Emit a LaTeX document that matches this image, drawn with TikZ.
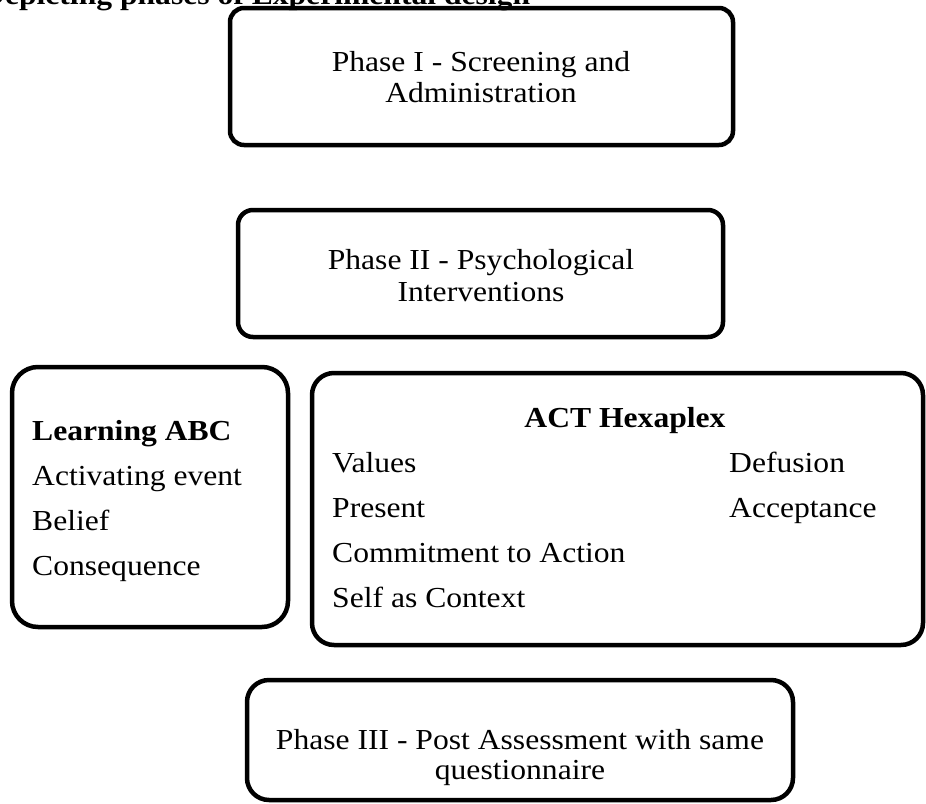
\documentclass[tikz,border=0pt]{standalone}
\usepackage{fontspec}
\setmainfont{Liberation Serif}[FakeStretch=1.09]
\begin{document}
\begin{tikzpicture}[x=1pt, y=-1pt, font=\fontsize{29}{31}\selectfont,
  panel/.style={draw, line width=4.5, inner sep=0, outer sep=0, anchor=north west},
  txt/.style={inner sep=0, anchor=base},
  item/.style={inner sep=0, anchor=base west}]
\useasboundingbox (0,0) rectangle (926,803);
\clip (0,0) rectangle (926,803);

\node [item, font=\fontsize{29}{31}\selectfont\bfseries] (title) at (-18, 5) {Depicting phases of Experimental design};

\node [panel, rounded corners=14, minimum width=503, minimum height=137] (phasei) at (230, 8) {};
\node [panel, rounded corners=15, minimum width=485, minimum height=127] (phaseii) at (238, 210) {};
\node [panel, rounded corners=26, minimum width=276, minimum height=260] (abc) at (12, 367) {};
\node [panel, rounded corners=22, minimum width=611, minimum height=272] (act) at (312, 373) {};
\node [panel, rounded corners=22, minimum width=546, minimum height=120] (phaseiii) at (247, 680) {};

\node [txt] (pia) at (481, 71) {Phase I - Screening and};
\node [txt] (pib) at (481, 102) {Administration};

\node [txt] (piia) at (481, 269) {Phase II - Psychological};
\node [txt] (piib) at (481, 301) {Interventions};

\node [item, font=\fontsize{29}{31}\selectfont\bfseries] (abchead) at (32, 440) {Learning ABC};
\node [item] (abca) at (32, 485) {Activating event};
\node [item] (abcb) at (32, 530) {Belief};
\node [item] (abcc) at (32, 575) {Consequence};

\node [txt, font=\fontsize{29}{31}\selectfont\bfseries] (acthead) at (625, 427) {ACT Hexaplex};
\node [item] (values) at (332, 472) {Values};
\node [item] (present) at (332, 517) {Present};
\node [item] (commit) at (332, 562) {Commitment to Action};
\node [item] (self) at (332, 607) {Self as Context};
\node [item] (defusion) at (729, 472) {Defusion};
\node [item] (accept) at (729, 517) {Acceptance};

\node [txt] (piiia) at (520, 749) {Phase III - Post Assessment with same};
\node [txt] (piiib) at (520, 779) {questionnaire};
\end{tikzpicture}
\end{document}
